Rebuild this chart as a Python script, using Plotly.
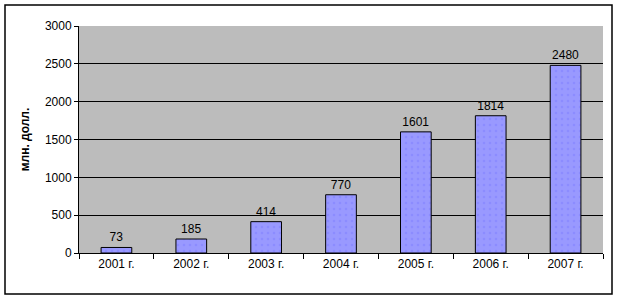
import plotly.graph_objects as go

categories = ["2001 г.", "2002 г.", "2003 г.", "2004 г.", "2005 г.", "2006 г.", "2007 г."]
values = [73, 185, 414, 770, 1601, 1814, 2480]
y_title = "млн. долл."

W, H = 619, 300
ml, mr, mt, mb = 79, 16, 26, 47
pw, ph = W - ml - mr, H - mt - mb

fig = go.Figure(go.Bar(
    x=categories, y=values,
    text=[str(v) for v in values], textposition="outside",
    textfont=dict(family="Liberation Sans, Arial", size=12, color="black"),
    marker=dict(color="#9999ff", line=dict(color="black", width=1),
                pattern=dict(shape=".", fgcolor="#7f7fff", size=6, solidity=0.15)),
    width=0.41, cliponaxis=False,
))

fig.update_layout(
    width=W, height=H,
    margin=dict(l=ml, r=mr, t=mt, b=mb),
    paper_bgcolor="white", plot_bgcolor="#bcbcbc",
    showlegend=False,
    font=dict(family="Liberation Sans, Arial", size=12, color="black"),
    xaxis=dict(showline=True, linecolor="black", linewidth=1, ticks="outside",
               tickson="boundaries", ticklen=5, tickcolor="black",
               tickfont=dict(size=12), showgrid=False),
    yaxis=dict(range=[0, 3000], dtick=500, showline=True, linecolor="black",
               linewidth=1, ticks="outside", ticklen=4, tickcolor="black",
               gridcolor="black", gridwidth=1, zeroline=False,
               tickfont=dict(size=12),
               title=dict(text="<b>" + y_title + "</b>", font=dict(size=12), standoff=12)),
    shapes=[dict(type="rect", xref="paper", yref="paper",
                 x0=(5 - ml) / pw, x1=(612 - ml) / pw,
                 y0=(H - mb - 294) / ph, y1=(H - mb - 5) / ph,
                 line=dict(color="black", width=1.5), fillcolor="rgba(0,0,0,0)",
                 layer="below")],
)

fig.write_html("out.html")
